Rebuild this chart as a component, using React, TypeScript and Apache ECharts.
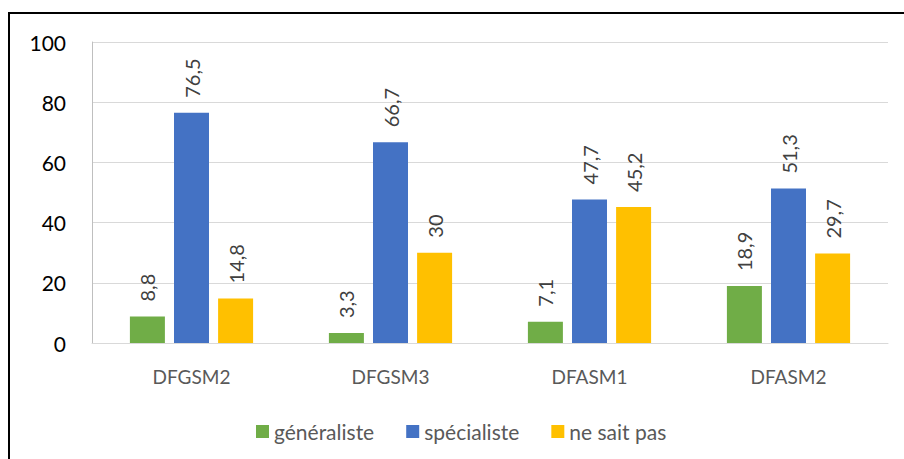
import React, { useEffect, useRef } from "react";
import * as echarts from "echarts";

const categories = ["DFGSM2", "DFGSM3", "DFASM1", "DFASM2"];
const generaliste = [8.8, 3.3, 7.1, 18.9];
const specialiste = [76.5, 66.7, 47.7, 51.3];
const neSaitPas = [14.8, 30, 45.2, 29.7];
const seriesNames = ["généraliste", "spécialiste", "ne sait pas"];
const colors = ["#70AD47", "#4472C4", "#FFC000"];

const FONT = "Lato";

export default function App() {
  const ref = useRef<HTMLDivElement>(null);
  useEffect(() => {
    document.body.style.margin = "0";
    const chart = echarts.init(ref.current!, null, { renderer: "svg" });
    const label = {
      show: true,
      position: "top",
      rotate: 90,
      align: "left",
      verticalAlign: "middle",
      distance: 15,
      color: "#404040",
      fontSize: 20,
      fontFamily: FONT,
      formatter: (p: any) => String(p.value).replace(".", ","),
    };
    const data = [generaliste, specialiste, neSaitPas];
    chart.setOption({
      animation: false,
      textStyle: { fontFamily: FONT },
      grid: { left: 92, right: 16, top: 42, bottom: 116 },
      graphic: [
        {
          type: "rect",
          shape: { x: 9, y: 13, width: 1000, height: 1000 },
          style: { fill: "none", stroke: "#000", lineWidth: 2 },
          silent: true,
        },
      ],
      legend: {
        left: 251,
        top: 416,
        itemWidth: 13,
        itemHeight: 13,
        itemGap: 32,
        icon: "rect",
        textStyle: { color: "#595959", fontSize: 21, fontFamily: FONT },
        data: seriesNames,
      },
      xAxis: {
        type: "category",
        data: categories,
        axisLine: { lineStyle: { color: "#D9D9D9", width: 1 } },
        axisTick: { show: false },
        axisLabel: { color: "#595959", fontSize: 19, fontFamily: FONT, margin: 24 },
      },
      yAxis: {
        type: "value",
        min: 0,
        max: 100,
        interval: 20,
        axisLine: { show: true, lineStyle: { color: "#BFBFBF", width: 1 } },
        axisTick: { show: false },
        splitLine: { lineStyle: { color: "#D9D9D9", width: 1 } },
        axisLabel: { color: "#000", fontSize: 21, fontFamily: FONT, margin: 26 },
      },
      series: seriesNames.map((name, i) => ({
        name,
        type: "bar",
        data: data[i],
        barWidth: 35,
        barGap: "26%",
        barCategoryGap: "38%",
        itemStyle: { color: colors[i] },
        label,
      })),
    });
    return () => chart.dispose();
  }, []);
  return <div ref={ref} style={{ width: 904, height: 459 }} />;
}
